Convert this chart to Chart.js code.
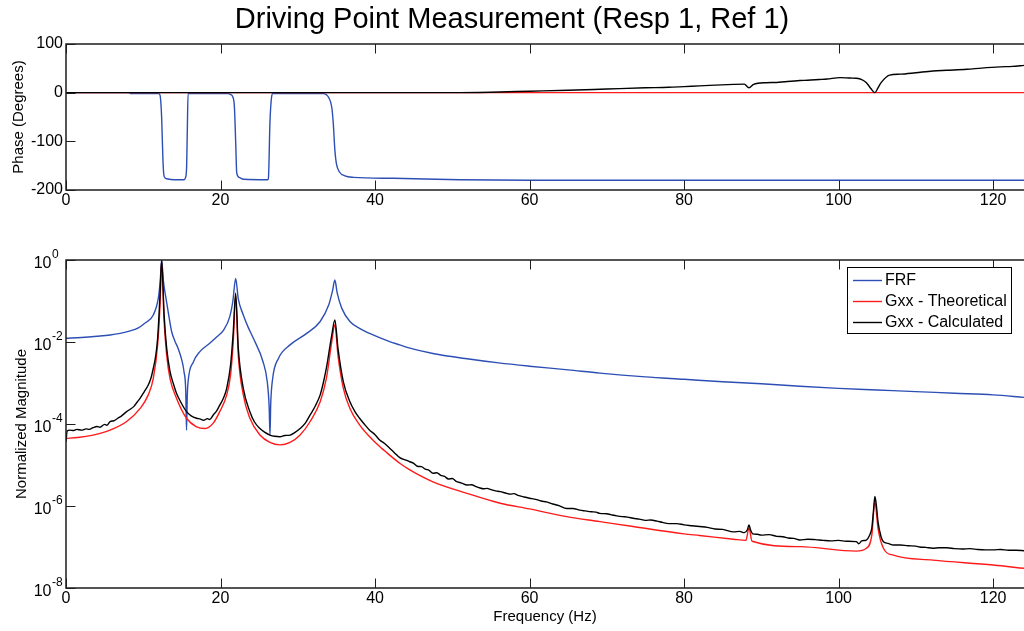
<!DOCTYPE html>
<html><head><meta charset="utf-8">
<script src="https://cdn.jsdelivr.net/npm/chart.js@4.4.1/dist/chart.umd.min.js"></script>
<style>
html,body{margin:0;padding:0;background:#fff;}
#wrap{position:relative;width:1024px;height:631px;overflow:hidden;background:#fff;}
#c1{position:absolute;left:0;top:0;}
#c2{position:absolute;left:0;top:215px;}
</style></head><body>
<div id="wrap"><canvas id="c1" width="1024" height="215"></canvas><canvas id="c2" width="1024" height="416"></canvas></div>
<script>
const FONT = "'Liberation Sans', Arial, Helvetica, sans-serif";
const chartTitle = 'Driving Point Measurement (Resp 1, Ref 1)';
const seriesNames = ['FRF', 'Gxx - Theoretical', 'Gxx - Calculated'];
const seriesColors = ['#2d4fb5', '#ff1a1a', '#000000'];
const xTickValues = [0, 20, 40, 60, 80, 100, 120];
const phaseTickValues = [-200, -100, 0, 100];
const magTickValues = [1e-8, 1e-6, 1e-4, 1e-2, 1];

// ---- Phase (degrees) ----
const frfPhaseHz = [0, 8.2, 8.4, 12.0, 12.17, 12.38, 12.55, 12.7, 13.03, 14.0, 15.3, 15.45, 15.6, 15.7, 15.8, 21.0, 21.2, 21.65, 21.8, 21.96, 22.1, 22.4, 23.0, 26.1, 26.2, 26.4, 26.6, 26.75, 31.0, 33.3, 34.0, 34.4, 34.6, 34.8, 35.0, 35.4, 36.1, 37.2, 42.4, 51.0, 60.0, 124.0];
const frfPhase   = [0, 0, -2, -2, -5, -51, -140, -172, -177, -179, -179, -175, -158, -80, -2, -2, -3, -11, -30, -100, -165, -174, -178, -179, -176, -60, -10, -2, -2, -2, -10, -30, -64, -118, -146, -163, -171, -174, -176, -179, -180, -180];
const theoPhaseHz = [0, 124];
const theoPhase   = [0, 0];
const calcPhaseHz = [0, 50, 55, 60, 65, 70, 75, 78, 80, 82, 84, 86.4, 87.8, 88.4, 89, 90.6, 92, 93, 95, 96, 97.5, 98.5, 100.2, 101.5, 102.3, 103, 103.6, 104.2, 104.7, 105.1, 105.5, 106.6, 108, 110, 112.2, 114, 116.6, 118.5, 120.9, 122.5, 124];
const calcPhase   = [0, 0, 1, 3, 5, 7.5, 10, 11, 12.5, 14, 15.5, 17, 17.5, 10, 17, 20.5, 21, 22.5, 25, 25.5, 27, 28, 31, 30, 29.5, 27, 20.5, 8, 0, 10, 20.5, 36, 38, 41, 44.6, 46, 48, 50.5, 53, 54, 56];

// ---- Normalized magnitude ----
const frfMagHz = [0, 2, 4, 5.7, 7, 8.3, 9.3, 10.2, 11.3, 11.95, 12.2, 12.38, 12.6, 12.94, 13.3, 13.68, 14.1, 14.5, 15.0, 15.27, 15.5, 15.6, 15.7, 15.8, 16.5, 17.3, 18.6, 19.5, 20.4, 21.2, 21.6, 21.96, 22.3, 22.95, 23.6, 24.25, 25.5, 26.05, 26.3, 26.4, 26.5, 26.75, 27.5, 29.0, 31.15, 32.9, 34.0, 34.5, 34.8, 35.1, 35.7, 36.75, 38, 39.3, 41.9, 43.2, 44.5, 47.5, 51.9, 56, 60, 65, 69.1, 75, 80, 85, 90, 95, 100, 105, 110, 115, 120, 124];
const frfMag   = [1.23e-2, 1.29e-2, 1.38e-2, 1.48e-2, 1.62e-2, 1.86e-2, 2.19e-2, 2.88e-2, 4.57e-2, 0.117, 0.316, 1.0, 0.316, 0.117, 4.47e-2, 1.78e-2, 1.05e-2, 7.08e-3, 3.55e-3, 1.91e-3, 6.31e-4, 7.08e-5, 5.01e-4, 1.07e-3, 3.31e-3, 5.75e-3, 9.33e-3, 1.32e-2, 1.95e-2, 4.17e-2, 0.1, 0.355, 0.112, 4.57e-2, 2.24e-2, 1.23e-2, 3.31e-3, 1.07e-3, 2.51e-4, 5.37e-5, 3.16e-4, 1.29e-3, 3.98e-3, 8.51e-3, 1.62e-2, 3.16e-2, 7.94e-2, 0.178, 0.324, 0.158, 6.61e-2, 3.16e-2, 2.14e-2, 1.62e-2, 1.02e-2, 8.51e-3, 7.08e-3, 5.25e-3, 3.89e-3, 3.09e-3, 2.57e-3, 2.09e-3, 1.74e-3, 1.41e-3, 1.23e-3, 1.07e-3, 9.55e-4, 8.32e-4, 7.41e-4, 6.76e-4, 6.17e-4, 5.62e-4, 5.13e-4, 4.47e-4];

const theoMagHz = [0, 1.5, 3.5, 5.7, 7.85, 9.6, 10.65, 11.3, 11.86, 12.17, 12.38, 12.7, 13.03, 13.46, 14.3, 15.6, 16.9, 18.0, 19.06, 19.9, 20.8, 21.3, 21.65, 21.96, 22.3, 22.95, 23.8, 25.1, 26.4, 27.7, 29.0, 30.3, 31.6, 32.9, 33.7, 34.4, 34.8, 35.2, 35.9, 36.75, 38.0, 39.3, 40.6, 41.9, 43.2, 44.5, 47.5, 51.9, 56.2, 60, 64.8, 69.1, 73.4, 80, 82, 86.4, 88.0, 88.4, 88.8, 95, 102.3, 103.6, 104.3, 104.7, 105.1, 105.8, 107.1, 112.2, 120, 124];
const theoMag   = [4.47e-5, 4.68e-5, 5.37e-5, 7.08e-5, 1.15e-4, 2.40e-4, 5.13e-4, 1.29e-3, 8.51e-3, 7.94e-2, 0.891, 3.16e-2, 4.79e-3, 1.29e-3, 4.27e-4, 1.38e-4, 8.51e-5, 7.76e-5, 1.05e-4, 2.00e-4, 5.13e-4, 1.58e-3, 1.02e-2, 0.132, 4.79e-3, 5.13e-4, 1.38e-4, 5.37e-5, 3.55e-5, 3.09e-5, 3.55e-5, 5.37e-5, 1.15e-4, 3.47e-4, 1.29e-3, 1.02e-2, 2.63e-2, 4.79e-3, 7.41e-4, 2.40e-4, 9.55e-5, 4.90e-5, 2.82e-5, 1.74e-5, 1.10e-5, 7.59e-6, 3.89e-6, 2.04e-6, 1.17e-6, 8.51e-7, 5.50e-7, 4.17e-7, 3.16e-7, 2.09e-7, 1.91e-7, 1.55e-7, 1.45e-7, 2.88e-7, 1.38e-7, 1.02e-7, 7.94e-8, 9.33e-8, 1.95e-7, 1.29e-6, 2.88e-7, 9.33e-8, 6.31e-8, 4.79e-8, 3.63e-8, 3.02e-8];

const calcMagHz = [0, 0.15, 0.5, 1.0, 1.4, 2.0, 2.6, 3.0, 3.5, 4.0, 4.4, 5.0, 5.3, 5.7, 6.2, 6.7, 7.2, 7.85, 8.3, 8.8, 9.2, 9.6, 10.1, 10.65, 11.0, 11.3, 11.6, 11.86, 12.17, 12.38, 12.7, 13.03, 13.46, 13.9, 14.3, 14.9, 15.6, 16.2, 16.9, 17.4, 17.8, 18.3, 18.6, 19.06, 19.5, 19.9, 20.4, 20.8, 21.3, 21.65, 21.96, 22.3, 22.95, 23.8, 24.4, 25.1, 25.7, 26.4, 27.0, 27.7, 28.3, 29.0, 29.6, 30.3, 31.0, 31.6, 32.3, 32.9, 33.3, 33.7, 34.4, 34.8, 35.2, 35.9, 36.75, 37.4, 38.0, 38.6, 39.3, 40.0, 40.6, 41.2, 41.9, 42.5,
  43.2, 44.0, 44.5, 45.0, 45.5, 46.0, 46.5, 47.0, 47.5, 48.0, 48.5, 49.0, 49.5, 50.0, 50.5, 51.2, 51.9, 52.5, 53.0, 53.6, 54.0, 54.5, 55.0, 55.6, 56.2, 57.0, 57.5, 58.0, 58.5, 59.3, 60.0, 60.8, 61.5, 62.2, 63.0, 63.8, 64.8, 65.6, 66.5, 67.2, 68.0, 68.6, 69.1, 70.0, 70.5, 71.3, 72.0, 72.7, 73.4, 74.2, 75.0, 75.7, 76.5, 77.2, 78.0, 79.0, 80.0, 81.0, 82.0, 83.0, 84.0, 85.0, 86.4, 87.2, 87.8, 88.2, 88.4, 88.6, 88.9, 89.5, 90.0, 91.0, 92.0, 92.8, 93.5, 94.2, 95.0, 96.0, 97.0, 98.0, 99.0, 100.0, 101.0, 102.3, 102.6, 103.0, 103.6, 104.0, 104.3, 104.5, 104.7, 104.9, 105.1, 105.5, 105.8, 106.4, 107.1, 108.0, 109.0, 110.0, 110.5, 111.3, 112.2, 113.0, 114.0, 115.0, 116.0, 117.0, 118.0, 119.0, 120.0, 121.0, 122.0, 123.0, 124.0];
const calcMag   = [3.72e-5, 6.76e-5, 7.08e-5, 6.92e-5, 7.41e-5, 7.08e-5, 7.59e-5, 7.41e-5, 8.13e-5, 8.71e-5, 8.32e-5, 9.77e-5, 9.33e-5, 1.15e-4, 1.20e-4, 1.38e-4, 1.58e-4, 2.00e-4, 2.29e-4, 2.69e-4, 3.39e-4, 4.27e-4, 6.03e-4, 8.91e-4, 1.32e-3, 2.29e-3, 4.47e-3, 1.23e-2, 0.141, 1.0, 4.57e-2, 7.08e-3, 1.91e-3, 9.55e-4, 5.62e-4, 3.31e-4, 2.00e-4, 1.58e-4, 1.38e-4, 1.32e-4, 1.23e-4, 1.35e-4, 1.29e-4, 1.66e-4, 2.09e-4, 2.88e-4, 4.37e-4, 7.41e-4, 2.75e-3, 1.78e-2, 0.155, 7.08e-3, 7.41e-4, 2.00e-4, 1.12e-4, 7.76e-5, 6.31e-5, 5.37e-5, 5.01e-5, 4.90e-5, 5.25e-5, 5.37e-5, 6.17e-5, 7.76e-5, 1.07e-4, 1.66e-4, 2.82e-4, 5.13e-4, 1.00e-3, 2.29e-3, 1.48e-2, 3.47e-2, 7.08e-3, 1.07e-3, 3.47e-4, 2.00e-4, 1.38e-4, 1.00e-4, 7.08e-5, 5.50e-5, 4.07e-5, 3.39e-5, 2.57e-5, 2.00e-5,
  1.51e-5, 1.32e-5, 1.20e-5, 1.10e-5, 9.33e-6, 9.12e-6, 7.94e-6, 7.41e-6, 6.31e-6, 6.46e-6, 5.62e-6, 5.25e-6, 4.57e-6, 4.68e-6, 3.98e-6, 3.63e-6, 3.24e-6, 3.31e-6, 3.02e-6, 2.75e-6, 2.63e-6, 2.69e-6, 2.51e-6, 2.34e-6, 2.24e-6, 2.04e-6, 1.95e-6, 2.00e-6, 1.82e-6, 1.66e-6, 1.55e-6, 1.45e-6, 1.32e-6, 1.26e-6, 1.12e-6, 1.02e-6, 8.71e-7, 8.71e-7, 7.94e-7, 7.59e-7, 7.24e-7, 7.08e-7, 6.61e-7, 6.46e-7, 6.17e-7, 5.75e-7, 5.50e-7, 5.37e-7, 5.01e-7, 4.79e-7, 4.47e-7, 4.57e-7, 4.27e-7, 3.98e-7, 3.72e-7, 3.72e-7, 3.47e-7, 3.31e-7, 3.16e-7, 3.02e-7, 2.75e-7, 2.69e-7, 2.34e-7, 2.40e-7, 2.24e-7, 2.63e-7, 3.47e-7, 2.63e-7, 2.09e-7, 2.04e-7, 1.95e-7, 2.00e-7, 1.82e-7, 1.78e-7, 1.66e-7, 1.62e-7, 1.48e-7, 1.55e-7, 1.51e-7, 1.45e-7, 1.41e-7, 1.45e-7, 1.38e-7, 1.35e-7, 1.20e-7, 1.41e-7, 1.48e-7, 1.91e-7, 2.88e-7, 7.08e-7, 1.70e-6, 1.00e-6, 4.17e-7, 1.78e-7, 1.35e-7, 1.23e-7, 1.12e-7, 1.12e-7, 1.07e-7, 1.05e-7, 1.00e-7, 9.77e-8, 9.33e-8, 9.55e-8, 9.55e-8, 9.12e-8, 8.91e-8, 9.12e-8, 8.71e-8, 8.51e-8, 8.51e-8, 8.71e-8, 8.32e-8, 8.32e-8, 8.13e-8];

function pts(xs, ys) { return xs.map((x, i) => ({ x: x, y: ys[i] })); }

function makeDatasets(list) {
  return list.map((d, i) => ({
    label: seriesNames[i],
    data: pts(d[0], d[1]),
    borderColor: seriesColors[i],
    backgroundColor: seriesColors[i],
    borderWidth: 1.4,
    pointRadius: 0,
    cubicInterpolationMode: 'monotone',
    fill: false,
    order: 3 - i
  }));
}

const AXIS = '#1e1e1e';
const TICKLEN = 9.5;

const framePlugin = {
  id: 'frame',
  afterDatasetsDraw(chart) {
    const { ctx, chartArea: a } = chart;
    const x = chart.scales.x, y = chart.scales.y;
    ctx.save();
    ctx.strokeStyle = AXIS;
    ctx.lineWidth = 1;
    ctx.beginPath();
    x.ticks.forEach(t => {
      const px = Math.round(x.getPixelForValue(t.value)) + 0.5;
      ctx.moveTo(px, a.bottom); ctx.lineTo(px, a.bottom - TICKLEN);
      ctx.moveTo(px, a.top); ctx.lineTo(px, a.top + TICKLEN);
    });
    y.ticks.forEach(t => {
      const py = Math.round(y.getPixelForValue(t.value)) + 0.5;
      ctx.moveTo(a.left, py); ctx.lineTo(a.left + TICKLEN, py);
    });
    ctx.stroke();
    ctx.lineWidth = 1.5;
    ctx.beginPath();
    ctx.moveTo(a.right + 2, a.top); ctx.lineTo(a.left, a.top);
    ctx.lineTo(a.left, a.bottom); ctx.lineTo(a.right + 2, a.bottom);
    ctx.stroke();
    ctx.restore();
  }
};

const supLabelsPlugin = {
  id: 'supLabels',
  afterDraw(chart) {
    const y = chart.scales.y;
    const ctx = chart.ctx;
    ctx.save();
    ctx.fillStyle = '#000';
    y.ticks.forEach(t => {
      const py = y.getPixelForValue(t.value);
      const e = String(Math.round(Math.log10(t.value)));
      ctx.font = '16px ' + FONT;
      ctx.textAlign = 'right';
      ctx.textBaseline = 'alphabetic';
      ctx.fillText('10', 51.5, py + 7.5);
      ctx.font = '12px ' + FONT;
      ctx.textAlign = 'left';
      ctx.fillText(e, 52, py - 2);
    });
    ctx.restore();
  }
};

const legendPlugin = {
  id: 'boxLegend',
  afterDraw(chart) {
    const ctx = chart.ctx;
    const top = 267 - 215;
    const box = { l: 847, t: top, r: 1011, b: top + 66 };
    ctx.save();
    ctx.fillStyle = '#fff';
    ctx.fillRect(box.l, box.t, box.r - box.l, box.b - box.t);
    ctx.strokeStyle = '#000';
    ctx.lineWidth = 1;
    ctx.strokeRect(box.l + 0.5, box.t + 0.5, box.r - box.l, box.b - box.t);
    ctx.font = '16px ' + FONT;
    ctx.textAlign = 'left';
    ctx.textBaseline = 'middle';
    chart.data.datasets.forEach((ds, i) => {
      const yy = box.t + 13.5 + i * 21;
      ctx.strokeStyle = ds.borderColor;
      ctx.lineWidth = 1.4;
      ctx.beginPath(); ctx.moveTo(853, yy); ctx.lineTo(882, yy); ctx.stroke();
      ctx.fillStyle = '#000';
      ctx.fillText(ds.label, 885, yy + 0.5);
    });
    ctx.restore();
  }
};

const xScale = (height, showTitle) => ({
  type: 'linear', min: 0, max: 124,
  afterBuildTicks: s => { s.ticks = xTickValues.map(v => ({ value: v })); },
  afterFit: s => { s.height = height; },
  grid: { display: false, drawTicks: false },
  border: { display: false },
  ticks: { color: '#000', font: { family: FONT, size: 16 }, padding: 1, maxRotation: 0, autoSkip: false },
  title: { display: showTitle, text: 'Frequency (Hz)', color: '#000', font: { family: FONT, size: 15 }, padding: { top: 0, bottom: 5 } }
});

Chart.defaults.font.family = FONT;

new Chart(document.getElementById('c1'), {
  type: 'line',
  data: { datasets: makeDatasets([[frfPhaseHz, frfPhase], [theoPhaseHz, theoPhase], [calcPhaseHz, calcPhase]]) },
  options: {
    responsive: false, animation: false, devicePixelRatio: 1,
    layout: { padding: 0 },
    plugins: {
      legend: { display: false }, tooltip: { enabled: false },
      title: { display: true, text: chartTitle, color: '#000', font: { family: FONT, size: 29, weight: 'normal' }, padding: { top: 3, bottom: 6.2 } }
    },
    scales: {
      x: xScale(25, false),
      y: {
        type: 'linear', min: -200, max: 100,
        afterBuildTicks: s => { s.ticks = phaseTickValues.map(v => ({ value: v })); },
        afterFit: s => { s.width = 66; },
        grid: { display: false, drawTicks: false },
        border: { display: false },
        ticks: { color: '#000', font: { family: FONT, size: 16 }, padding: 3 },
        title: { display: true, text: 'Phase (Degrees)', color: '#000', font: { family: FONT, size: 15 }, padding: { top: 9.5, bottom: 0 } }
      }
    }
  },
  plugins: [framePlugin]
});

new Chart(document.getElementById('c2'), {
  type: 'line',
  data: { datasets: makeDatasets([[frfMagHz, frfMag], [theoMagHz, theoMag], [calcMagHz, calcMag]]) },
  options: {
    responsive: false, animation: false, devicePixelRatio: 1,
    layout: { padding: { top: 45, left: 0, right: 0, bottom: 0 } },
    plugins: { legend: { display: false }, tooltip: { enabled: false }, title: { display: false } },
    scales: {
      x: xScale(43, true),
      y: {
        type: 'logarithmic', min: 1e-8, max: 1,
        afterBuildTicks: s => { s.ticks = magTickValues.map(v => ({ value: v })); },
        afterFit: s => { s.width = 66; },
        grid: { display: false, drawTicks: false },
        border: { display: false },
        ticks: { display: false },
        title: { display: true, text: 'Normalized Magnitude', color: '#000', font: { family: FONT, size: 15 }, padding: { top: 12.7, bottom: 0 } }
      }
    }
  },
  plugins: [framePlugin, supLabelsPlugin, legendPlugin]
});
</script>
</body></html>
